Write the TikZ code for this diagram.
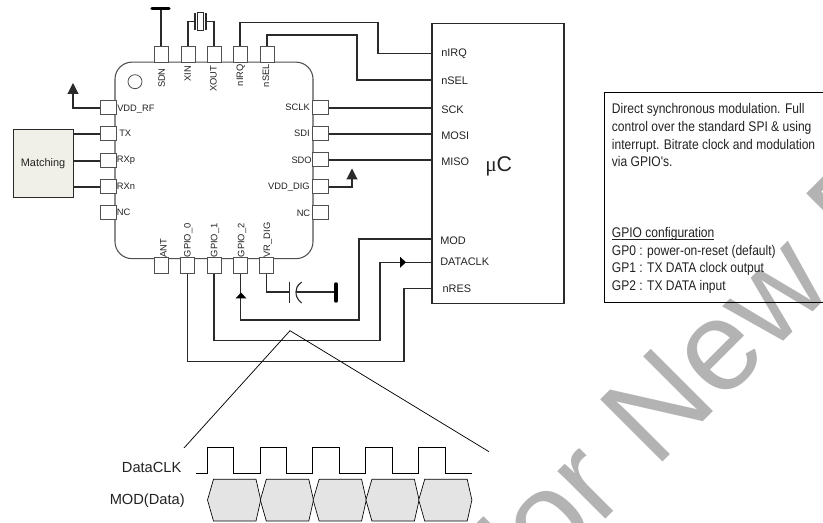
\documentclass[tikz,border=0pt]{standalone}
\usepackage{fontspec}
\setmainfont{Liberation Sans}
\newfontfamily\narrowfont[FakeStretch=0.86]{Liberation Sans}
\newfontfamily\serifmu{Liberation Serif}
\usetikzlibrary{arrows.meta}
\definecolor{ink}{HTML}{222222}
\definecolor{wire}{HTML}{2A2A2A}
\definecolor{chipline}{HTML}{505050}
\definecolor{wmark}{HTML}{B3B3B3}
\definecolor{hexfill}{HTML}{E4E4E4}
\definecolor{matchfill}{HTML}{F0F0E8}
\tikzset{
  pinh/.style={draw=chipline,line width=0.75pt,fill=white,inner sep=0pt,minimum width=12pt,minimum height=10.5pt},
  pinv/.style={draw=chipline,line width=0.75pt,fill=white,inner sep=0pt,minimum width=10.5pt,minimum height=12pt},
  wirepath/.style={draw=wire,line width=0.85pt},
  tiphead/.style={-{Triangle[width=8.25pt,length=8.25pt]},wirepath},
  railbar/.style={draw=black,line width=2.6pt,line cap=round},
  pinlab/.style={inner sep=0pt,text=ink,font=\fontsize{7}{8}\selectfont},
  mculab/.style={inner sep=0pt,text=ink,anchor=west,font=\fontsize{8.2}{9}\selectfont},
  wavelab/.style={inner sep=0pt,text=ink,anchor=east,font=\fontsize{11}{12}\selectfont},
  hexa/.style={draw=black,line width=0.5pt,fill=hexfill},
  thinline/.style={draw=black,line width=0.55pt},
}
\begin{document}
\begin{tikzpicture}[x=0.75pt,y=-0.75pt]
\useasboundingbox (0,0) rectangle (823,523);
% watermark
\begin{scope}
\clip (0,0) rectangle (823,523);
\node[anchor=base west,rotate=45,inner sep=0pt,text=wmark,font=\fontsize{96}{100}\selectfont] (wm) at (494,631) {For New D};
\end{scope}
% chip
\node[draw=chipline,line width=0.8pt,rounded corners=12.75pt,minimum width=148.5pt,minimum height=147.4pt,inner sep=0pt] (chip) at (214,160.4) {};
\node[draw=chipline,circle,line width=0.6pt,minimum size=10.5pt,inner sep=0pt] (dot) at (135,81.7) {};
% top pins
\node[pinv] (sdn) at (161,55) {};
\node[pinv] (xin) at (188,55) {};
\node[pinv] (xout) at (214,55) {};
\node[pinv] (nirq) at (240,55) {};
\node[pinv] (nsel) at (267,55) {};
% left pins
\node[pinh] (vddrf) at (108,108) {};
\node[pinh] (tx) at (108,134) {};
\node[pinh] (rxp) at (108,161) {};
\node[pinh] (rxn) at (108,187) {};
\node[pinh] (ncl) at (108,213) {};
% right pins
\node[pinh] (sclk) at (320,108) {};
\node[pinh] (sdi) at (320,134) {};
\node[pinh] (sdo) at (320,160) {};
\node[pinh] (vdddig) at (320,187) {};
\node[pinh] (ncr) at (320,213) {};
% bottom pins
\node[pinv] (ant) at (161,266) {};
\node[pinv] (gpa) at (187.5,266) {};
\node[pinv] (gpb) at (214,266) {};
\node[pinv] (gpc) at (240.5,266) {};
\node[pinv] (vrdig) at (266.5,266) {};
% pin labels
\foreach \n/\x/\y/\t in {ta/161.7/68/SDN,tb/187.7/65.7/XIN,tc/213.3/65.7/XOUT,td/240.7/64/nIRQ,te/266/64/nSEL}
  \node[pinlab,rotate=90,anchor=east] (\n) at (\x,\y) {\t};
\foreach \n/\x/\t in {ba/163.3/ANT,bb/188.3/GPIO\_0,bc/215/GPIO\_1,bd/242/GPIO\_2,be/267.7/VR\_DIG}
  \node[pinlab,rotate=90,anchor=west] (\n) at (\x,257.5) {\t};
\node[pinlab,anchor=west] (la) at (117,109) {VDD\_RF};
\node[pinlab,anchor=west] (lb) at (119,133.5) {TX};
\node[pinlab,anchor=west] (lc) at (116.7,160.7) {RXp};
\node[pinlab,anchor=west] (ld) at (116.7,186.7) {RXn};
\node[pinlab,anchor=west] (le) at (116.7,212.7) {NC};
\node[pinlab,anchor=east] (ra) at (310,107.5) {SCLK};
\node[pinlab,anchor=east] (rb) at (310,133.7) {SDI};
\node[pinlab,anchor=east] (rc) at (312,160) {SDO};
\node[pinlab,anchor=east] (rd) at (310,186.7) {VDD\_DIG};
\node[pinlab,anchor=east] (re) at (310.5,213.7) {NC};
% matching
\node[draw=wire,line width=0.7pt,fill=matchfill,minimum width=45pt,minimum height=51pt,inner sep=0pt,text=ink,font=\fontsize{8.2}{9}\selectfont] (match) at (43,163.5) {Matching};
\draw[wirepath] (tx.west) -- (tx.west -| match.east);
\draw[wirepath] (rxp.west) -- (rxp.west -| match.east);
\draw[wirepath] (rxn.west) -- (rxn.west -| match.east);
% MCU
\node[draw=wire,line width=0.9pt,minimum width=99pt,minimum height=210pt,inner sep=0pt] (mcu) at (498,163.7) {};
\foreach \n/\x/\y/\t in {ua/441/53.3/nIRQ,ub/441/80.3/nSEL,uc/441/109.3/SCK,ud/441/135.3/MOSI,ue/441/161.3/MISO,uf/440/241/MOD,ug/440/262/DATACLK,uh/442.3/288.3/nRES}
  \node[mculab] (\n) at (\x,\y) {\t};
\node[inner sep=0pt,anchor=base west,text=ink,font=\fontsize{16}{18}\selectfont] (muc) at (485,172) {{\serifmu μ}C};
\coordinate (eirq) at (432,53.7);
\coordinate (esel) at (432,80);
\coordinate (emod) at (432,239);
\coordinate (eclk) at (432,262.3);
\coordinate (eres) at (432,288.7);
\draw[wirepath] (nirq.north) |- (378,22.5) |- (eirq);
\draw[wirepath] (nsel.north) |- (357,35) |- (esel);
\draw[wirepath] (sclk.east) -- (sclk.east -| mcu.west);
\draw[wirepath] (sdi.east) -- (sdi.east -| mcu.west);
\draw[wirepath] (sdo.east) -- (sdo.east -| mcu.west);
\draw[wirepath] (emod) -| (359,320) -| (gpc.south);
\draw[wirepath] (eclk) -| (380,340.7) -| (gpb.south);
\draw[wirepath] (eres) -| (404,361.7) -| (gpa.south);
\fill[black] (241,292.5) -- (246.5,298.5) -- (235.5,298.5) -- cycle;
\fill[black] (406,262.3) -- (400,256.8) -- (400,267.8) -- cycle;
% power arrows
\coordinate (vrtip) at (73,83);
\coordinate (vdtip) at (352,168.5);
\draw[tiphead] (vddrf.west) -| (vrtip);
\draw[tiphead] (vdddig.east) -| (vdtip);
% SDN rail
\coordinate (sdnrail) at (160.5,8.5);
\draw[wirepath] (sdn.north) -- (sdn.north |- sdnrail);
\draw[railbar] (152,8.5) -- (169,8.5);
% crystal
\node[draw=wire,line width=0.75pt,minimum width=4.5pt,minimum height=13.5pt,inner sep=0pt] (xtal) at (200,22) {};
\draw[wirepath] (195,13) -- (195,30);
\draw[wirepath] (206,13) -- (206,30);
\draw[wirepath] (xin.north) |- (195,21.7);
\draw[wirepath] (xout.north) |- (206,21.7);
% capacitor
\coordinate (capa) at (289.5,292);
\coordinate (capb) at (296,292);
\coordinate (gnd) at (336,292);
\draw[wirepath] (vrdig.south) |- (capa);
\draw[wirepath] (capb) -- (gnd);
\draw[wirepath] (289.5,282) -- (289.5,303);
\draw[wirepath] (301.7,282) .. controls (296.5,286) and (296,289) .. (296,292) .. controls (296,295) and (296.5,299) .. (301.7,303);
\draw[railbar] (336,284) -- (336,301);
% zoom lines
\coordinate (apex) at (290,330.7);
\coordinate (zl) at (184,448);
\coordinate (zr) at (489,451.7);
\draw[thinline] (zl) -- (apex) -- (zr);
% waveforms
\draw[thinline,line join=miter] (196,473.3) -- (207.7,473.3) -- (207.7,447.7) -- (233.7,447.7) -- (233.7,473.3) -- (260,473.3) -- (260,447.7) -- (286.7,447.7) -- (286.7,473.3) -- (312.7,473.3) -- (312.7,447.7) -- (339.3,447.7) -- (339.3,473.3) -- (365.7,473.3) -- (365.7,447.7) -- (392.3,447.7) -- (392.3,473.3) -- (418.7,473.3) -- (418.7,447.7) -- (445.3,447.7) -- (445.3,473.3) -- (471.7,473.3);
\foreach \i in {0,...,4}{
  \pgfmathsetmacro{\xl}{207.5+52.8*\i}
  \draw[hexa] (\xl,500) -- (\xl+6,479.3) -- (\xl+48.5,479.3) -- (\xl+53.2,500) -- (\xl+48.5,521) -- (\xl+6,521) -- cycle;
}
\node[wavelab] (wclk) at (181.7,467.7) {DataCLK};
\node[wavelab] (wdat) at (185,501) {MOD(Data)};
% description box
\draw[draw=black,line width=0.7pt] (830,92.3) -- (604,92.3) -- (604,302) -- (830,302);
\node[anchor=north west,inner sep=0pt,text=ink,align=left,font=\narrowfont\fontsize{10.5}{13.28}\selectfont] (desc) at (611.7,103.2) {Direct synchronous modulation. Full\\control over the standard SPI \& using\\interrupt. Bitrate clock and modulation\\via GPIO's.\\[0pt]\\\\\\\underline{\smash{GPIO configuration}}\\GP0 : power-on-reset (default)\\GP1 : TX DATA clock output\\GP2 : TX DATA input};
\end{tikzpicture}
\end{document}
